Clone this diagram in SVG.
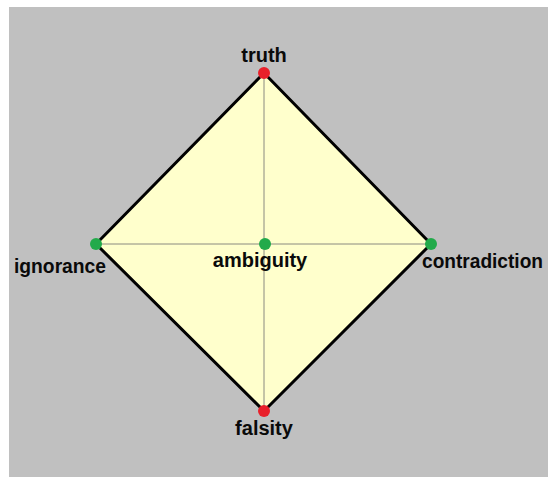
<svg xmlns="http://www.w3.org/2000/svg" width="548" height="477" viewBox="0 0 548 477">
  <style>
    .lbl { font-family: "Liberation Sans", Arial, sans-serif; font-weight: bold; font-size: 20px; fill: #0a0a0a; }
    .edge { stroke: #000; stroke-width: 3; stroke-linecap: round; fill: none; }
    .axis { stroke: #8a8a80; stroke-width: 1; fill: none; }
    .red { fill: #e8202a; }
    .green { fill: #22aa4a; }
  </style>
  <rect x="0" y="0" width="548" height="477" fill="#ffffff"/>
  <rect x="9" y="7" width="539" height="470" fill="#c0c0c0"/>
  <polygon points="264,73 431,244 264,411 96,244" fill="#ffffcc"/>
  <g id="connectors">
    <line class="axis" x1="96" y1="244" x2="431" y2="244"/>
    <line class="axis" x1="264" y1="73" x2="264" y2="411"/>
    <line class="edge" x1="264" y1="73" x2="431" y2="244"/>
    <line class="edge" x1="431" y1="244" x2="264" y2="411"/>
    <line class="edge" x1="264" y1="411" x2="96" y2="244"/>
    <line class="edge" x1="96" y1="244" x2="264" y2="73"/>
  </g>
  <g id="truth">
    <circle class="red" cx="264" cy="73" r="6"/>
    <text class="lbl" x="264" y="62" text-anchor="middle">truth</text>
  </g>
  <g id="ignorance">
    <circle class="green" cx="96" cy="244" r="6"/>
    <text class="lbl" x="14" y="273" textLength="92" lengthAdjust="spacingAndGlyphs">ignorance</text>
  </g>
  <g id="ambiguity">
    <circle class="green" cx="265" cy="244" r="6"/>
    <text class="lbl" x="260" y="267" text-anchor="middle">ambiguity</text>
  </g>
  <g id="contradiction">
    <circle class="green" cx="431" cy="244" r="6"/>
    <text class="lbl" x="422" y="268" textLength="121" lengthAdjust="spacingAndGlyphs">contradiction</text>
  </g>
  <g id="falsity">
    <circle class="red" cx="264" cy="411" r="6"/>
    <text class="lbl" x="264" y="435" text-anchor="middle">falsity</text>
  </g>
</svg>
